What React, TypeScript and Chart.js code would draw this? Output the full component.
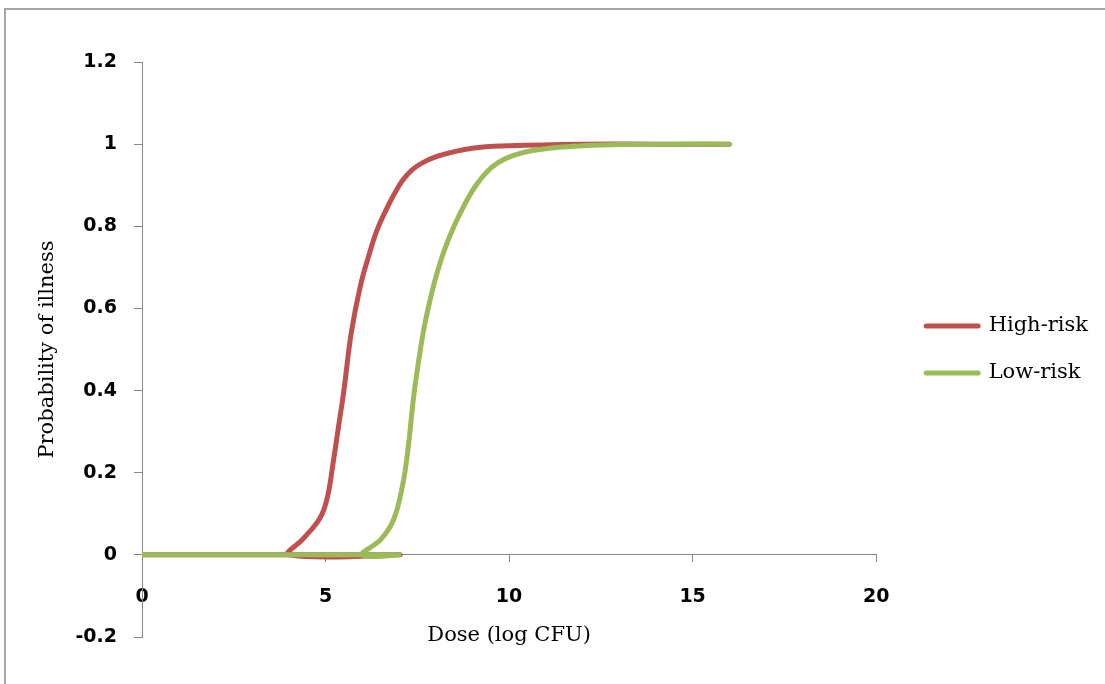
import React, { useEffect, useRef } from 'react';
import { Chart, registerables } from 'chart.js';

Chart.register(...registerables);

// ---- data ----
const seriesNames = ['High-risk', 'Low-risk'];

// both series start with a flat run at zero
const flatDose = [0, 1, 2, 3, 4, 5, 6, 7];
const flatProb = [0, 0, 0, 0, 0, 0, 0, 0];

const highRiskDose = [4, 4.4, 4.85, 5.05, 5.2, 5.35, 5.5, 5.7, 5.95, 6.2, 6.4, 6.65, 6.85, 7.1, 7.35, 7.65, 8.1, 9, 10, 12, 14, 16];
const highRiskProb = [0, 0.04, 0.09, 0.14, 0.22, 0.31, 0.4, 0.54, 0.655, 0.735, 0.79, 0.84, 0.875, 0.912, 0.937, 0.955, 0.972, 0.99, 0.996, 1, 1, 1];

const lowRiskDose = [6, 6.5, 6.85, 7.1, 7.25, 7.4, 7.55, 7.7, 7.9, 8.05, 8.25, 8.5, 8.8, 9.1, 9.4, 9.7, 10.1, 10.6, 11.3, 12, 13, 14.5, 16];
const lowRiskProb = [0, 0.037, 0.085, 0.17, 0.26, 0.385, 0.48, 0.56, 0.64, 0.69, 0.745, 0.8, 0.855, 0.9, 0.933, 0.955, 0.972, 0.984, 0.992, 0.996, 0.999, 1, 1];

const xMin = 0;
const xMax = 20;
const xStep = 5;
const yMin = -0.2;
const yMax = 1.2;
const yStep = 0.2;

const xTitle = 'Dose (log CFU)';
const yTitle = 'Probability of illness';

// ---- styles ----
const W = 1105;
const H = 684;
const RED = '#C0504D';
const GREEN = '#9BBB59';
const AXIS = '#868686';
const TICK_FONT = { family: 'DejaVu Sans', size: 19, weight: 'bold' as const };
const TEXT_FONT = { family: 'DejaVu Serif', size: 21 };
const LEGEND_PAD = 26;
const LEGEND_LINE = 52;
const SPACER = 24;
const PLOT_TOP = 62;
const PLOT_RIGHT = 876;
const PLOT_BOTTOM = 637;

const toPts = (xs: number[], ys: number[]) => xs.map((x, i) => ({ x, y: ys[i] }));

export default function App() {
  const ref = useRef<HTMLCanvasElement | null>(null);

  useEffect(() => {
    const canvas = ref.current;
    if (!canvas) return;

    const fmt = (v: any) => {
      const n = Math.round(Number(v) * 10) / 10;
      return String(n === 0 ? 0 : n);
    };

    const makeSet = (label: string, color: string, xs: number[], ys: number[]) => ({
      label,
      data: [...toPts(flatDose, flatProb), ...toPts(xs, ys)],
      borderColor: color,
      backgroundColor: color,
      borderWidth: 5,
      borderCapStyle: 'round',
      borderJoinStyle: 'round',
      pointRadius: 0,
      pointHoverRadius: 0,
      pointBorderWidth: 5,
      tension: 0.4,
      fill: false,
      xAxisID: 'x',
      yAxisID: 'y',
    });

    const padding = { top: PLOT_TOP, left: 0, right: 20, bottom: 0 };

    const chart = new Chart(canvas, {
      type: 'line',
      data: {
        datasets: [
          makeSet(seriesNames[1], GREEN, lowRiskDose, lowRiskProb),
          makeSet(seriesNames[0], RED, highRiskDose, highRiskProb),
        ],
      },
      options: {
        animation: false,
        responsive: false,
        maintainAspectRatio: false,
        layout: { padding },
        plugins: {
          tooltip: { enabled: false },
          legend: {
            position: 'right',
            align: 'center',
            fullSize: false,
            reverse: true,
            maxWidth: 500,
            labels: {
              usePointStyle: true,
              pointStyle: 'line',
              pointStyleWidth: LEGEND_LINE,
              padding: LEGEND_PAD,
              color: '#000',
              font: TEXT_FONT,
              generateLabels: (c: any) =>
                (Chart.defaults.plugins.legend.labels.generateLabels as any)(c).map((l: any) => ({
                  ...l,
                  lineCap: 'round',
                  lineWidth: 5,
                  strokeStyle: c.data.datasets[l.datasetIndex].borderColor,
                  fillStyle: c.data.datasets[l.datasetIndex].borderColor,
                })),
            },
          },
        },
        scales: {
          x: {
            type: 'linear',
            position: { y: 0 } as any,
            min: xMin,
            max: xMax,
            ticks: { stepSize: xStep, font: TICK_FONT, color: '#000', padding: 24, callback: (v: any) => fmt(v) },
            grid: { display: true, drawOnChartArea: false, drawTicks: true, tickLength: 7, color: AXIS, lineWidth: 1 },
            border: { display: true, color: AXIS, width: 1 },
            title: { display: true, text: xTitle, font: TEXT_FONT, color: '#000', padding: { top: 0, bottom: -46 } },
            afterFit: (s: any) => {
              s.height = 47;
            },
          },
          y: {
            type: 'linear',
            position: 'left',
            min: yMin,
            max: yMax,
            ticks: { stepSize: yStep, font: TICK_FONT, color: '#000', padding: 17, callback: (v: any) => fmt(v) },
            grid: { display: true, drawOnChartArea: false, drawTicks: true, tickLength: 8, color: AXIS, lineWidth: 1 },
            border: { display: true, color: AXIS, width: 1 },
            title: { display: true, text: yTitle, font: TEXT_FONT, color: '#000', padding: { top: 35, bottom: 0 } },
            afterFit: (s: any) => {
              s.width = 142;
            },
          },
          spacer: {
            type: 'linear',
            position: 'right',
            display: true,
            grid: { display: false },
            border: { display: false },
            ticks: { display: false },
            afterFit: (s: any) => {
              s.width = SPACER;
            },
          },
        },
      } as any,
    });

    // nudge the outer padding so the plot area lands where the reference has it
    for (let i = 0; i < 4; i++) {
      const ca = chart.chartArea;
      const dR = Math.round(ca.right - PLOT_RIGHT);
      const dB = Math.round(ca.bottom - PLOT_BOTTOM);
      const dT = Math.round(PLOT_TOP - ca.top);
      if (!dR && !dB && !dT) break;
      padding.right += dR;
      padding.bottom += dB;
      padding.top += dT;
      (chart.options as any).layout.padding = { ...padding };
      chart.update();
    }

    return () => chart.destroy();
  }, []);

  return (
    <div style={{ position: 'fixed', left: 0, top: 0, width: W, height: H, overflow: 'hidden', background: '#fff' }}>
      <div
        style={{
          position: 'absolute',
          left: 4,
          top: 8,
          width: 1300,
          height: 900,
          border: '2px solid #a6a6a6',
          boxSizing: 'border-box',
        }}
      />
      <canvas ref={ref} width={W} height={H} style={{ position: 'absolute', left: 0, top: 0 }} />
    </div>
  );
}
